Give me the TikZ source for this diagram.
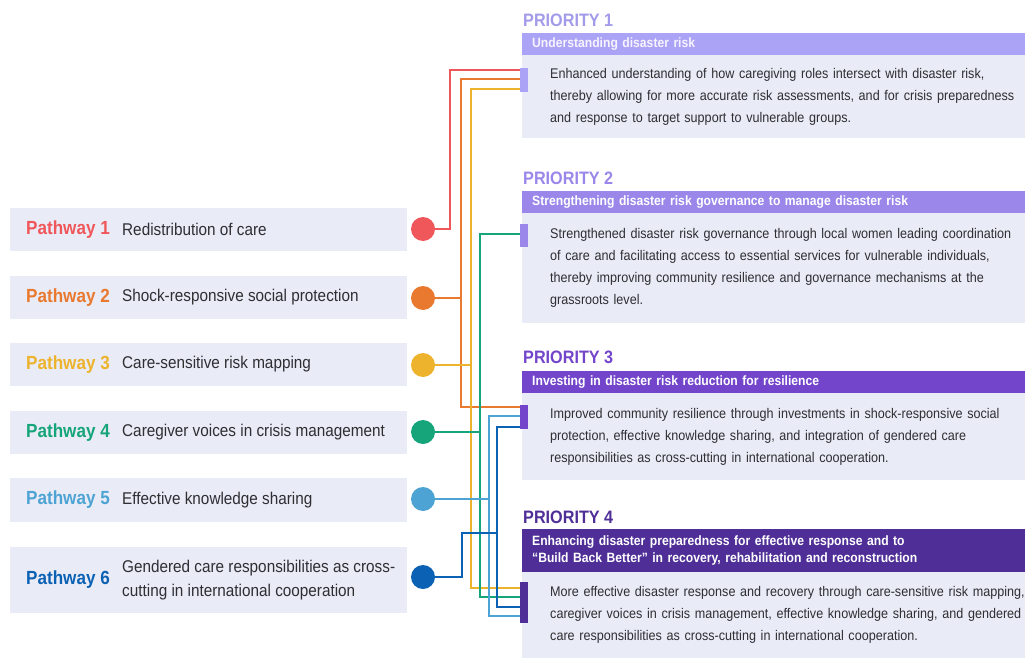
\documentclass[tikz,border=0pt]{standalone}
\usepackage{fontspec}
\setmainfont[FakeStretch=0.9]{Liberation Sans}

\definecolor{pred}{HTML}{F0575A}
\definecolor{porange}{HTML}{E8792E}
\definecolor{pyellow}{HTML}{EDB32C}
\definecolor{pgreen}{HTML}{16A57A}
\definecolor{plblue}{HTML}{4DA3D3}
\definecolor{pdblue}{HTML}{0B62B4}
\definecolor{boxfill}{HTML}{E9ECF6}
\definecolor{txt}{HTML}{2E2E33}
\definecolor{prione}{HTML}{ABA3F5}
\definecolor{pritwo}{HTML}{9A87E9}
\definecolor{prithree}{HTML}{7345CB}
\definecolor{prifour}{HTML}{4F2F97}

\begin{document}
\begin{tikzpicture}[x=1pt, y=-1pt,
    pathbox/.style={fill=boxfill, anchor=north west, minimum width=397pt, inner sep=0pt},
    pathlabel/.style={anchor=east, inner sep=0pt, font=\fontsize{19}{21}\selectfont\bfseries},
    pathtext/.style={anchor=west, inner sep=0pt, align=left, text=txt, font=\fontsize{17}{23.5}\selectfont},
    dot/.style={circle, minimum size=24pt, inner sep=0pt},
    prihead/.style={anchor=west, inner sep=0pt, font=\fontsize{18}{20}\selectfont\bfseries},
    priband/.style={anchor=north west, minimum width=510pt, text width=490pt, inner xsep=10pt, inner ysep=0pt, align=left, text=white, font=\fontsize{13.5}{17}\selectfont\bfseries},
    pribody/.style={fill=boxfill, anchor=north west, text width=600pt, inner xsep=28pt, inner ysep=0pt, align=left, text=txt, font=\fontsize{14}{22}\selectfont},
    pritab/.style={minimum width=8pt, inner sep=0pt},
    link/.style={line width=2.2pt}]
    \useasboundingbox (0,0) rectangle (1025,658);
    \clip (0,0) rectangle (1025,658);

    % Pathways
    \node[pathbox, minimum height=43pt] (pw1) at (10,208) {};
    \node[pathbox, minimum height=43pt] (pw2) at (10,276) {};
    \node[pathbox, minimum height=43pt] (pw3) at (10,343) {};
    \node[pathbox, minimum height=43pt] (pw4) at (10,411) {};
    \node[pathbox, minimum height=44pt] (pw5) at (10,478) {};
    \node[pathbox, minimum height=66pt] (pw6) at (10,547) {};

    \node[pathlabel, text=pred] (lab1) at (110,229.5) {Pathway 1};
    \node[pathlabel, text=porange] (lab2) at (110,297.5) {Pathway 2};
    \node[pathlabel, text=pyellow] (lab3) at (110,364.5) {Pathway 3};
    \node[pathlabel, text=pgreen] (lab4) at (110,432.5) {Pathway 4};
    \node[pathlabel, text=plblue] (lab5) at (110,500) {Pathway 5};
    \node[pathlabel, text=pdblue] (lab6) at (110,580) {Pathway 6};

    \node[pathtext] (txt1) at (122,229.5) {Redistribution of care};
    \node[pathtext] (txt2) at (122,297.5) {Shock-responsive social protection};
    \node[pathtext] (txt3) at (122,364.5) {Care-sensitive risk mapping};
    \node[pathtext] (txt4) at (122,432.5) {Caregiver voices in crisis management};
    \node[pathtext] (txt5) at (122,500) {Effective knowledge sharing};
    \node[pathtext] (txt6) at (122,580) {Gendered care responsibilities as cross-\\cutting in international cooperation};

    \node[dot, fill=pred] (c1) at (423,229) {};
    \node[dot, fill=porange] (c2) at (423,298) {};
    \node[dot, fill=pyellow] (c3) at (423,365) {};
    \node[dot, fill=pgreen] (c4) at (423,432) {};
    \node[dot, fill=plblue] (c5) at (423,499) {};
    \node[dot, fill=pdblue] (c6) at (423,577) {};

    % Priorities
    \node[prihead, text=prione!95!black] (h1) at (523,20) {PRIORITY 1};
    \node[priband, fill=prione, minimum height=22pt, text=white!88!prione] (b1) at (522,33) {Understanding disaster risk};
    \node[pribody, minimum height=83pt] (pr1) at (522,55) {Enhanced understanding of how caregiving roles intersect with disaster risk,\\thereby allowing for more accurate risk assessments, and for crisis preparedness\\and response to target support to vulnerable groups.};

    \node[prihead, text=pritwo] (h2) at (523,178) {PRIORITY 2};
    \node[priband, fill=pritwo, minimum height=22pt] (b2) at (522,191) {Strengthening disaster risk governance to manage disaster risk};
    \node[pribody, minimum height=110pt] (pr2) at (522,213) {Strengthened disaster risk governance through local women leading coordination\\of care and facilitating access to essential services for vulnerable individuals,\\thereby improving community resilience and governance mechanisms at the\\grassroots level.};

    \node[prihead, text=prithree] (h3) at (523,357) {PRIORITY 3};
    \node[priband, fill=prithree, minimum height=22pt] (b3) at (522,371) {Investing in disaster risk reduction for resilience};
    \node[pribody, minimum height=87pt] (pr3) at (522,393) {Improved community resilience through investments in shock-responsive social\\protection, effective knowledge sharing, and integration of gendered care\\responsibilities as cross-cutting in international cooperation.};

    \node[prihead, text=prifour] (h4) at (523,517) {PRIORITY 4};
    \node[priband, fill=prifour, minimum height=43pt] (b4) at (522,529) {Enhancing disaster preparedness for effective response and to\\``Build Back Better'' in recovery, rehabilitation and reconstruction};
    \node[pribody, minimum height=86pt] (pr4) at (522,572) {More effective disaster response and recovery through care-sensitive risk mapping,\\caregiver voices in crisis management, effective knowledge sharing, and gendered\\care responsibilities as cross-cutting in international cooperation.};

    \node[pritab, fill=prione, minimum height=24pt] (t1) at (524,80) {};
    \node[pritab, fill=pritwo, minimum height=23pt] (t2) at (524,235.5) {};
    \node[pritab, fill=prithree, minimum height=24pt] (t3) at (524,417) {};
    \node[pritab, fill=prifour, minimum height=41pt] (t4) at (524,602.5) {};

    % Links pathway -> priority
    \draw[link, pred] (c1.east) -| (450,70) -- (t1.west |- 0,70);
    \draw[link, porange] (t1.west |- 0,79) -| (461,407) -- (t3.west |- 0,407);
    \draw[link, porange] (c2.east) -- (c2.east -| 461,0);
    \draw[link, pyellow] (t1.west |- 0,89) -| (471,588) -- (t4.west |- 0,588);
    \draw[link, pyellow] (c3.east) -- (c3.east -| 471,0);
    \draw[link, pgreen] (t2.west |- 0,234) -| (480,597) -- (t4.west |- 0,597);
    \draw[link, pgreen] (c4.east) -- (c4.east -| 480,0);
    \draw[link, plblue] (t3.west |- 0,416) -| (489,616) -- (t4.west |- 0,616);
    \draw[link, plblue] (c5.east) -- (c5.east -| 489,0);
    \draw[link, pdblue] (t3.west |- 0,427) -| (497,607) -- (t4.west |- 0,607);
    \draw[link, pdblue] (c6.east) -| (462,533) -- (497,533);
\end{tikzpicture}
\end{document}
